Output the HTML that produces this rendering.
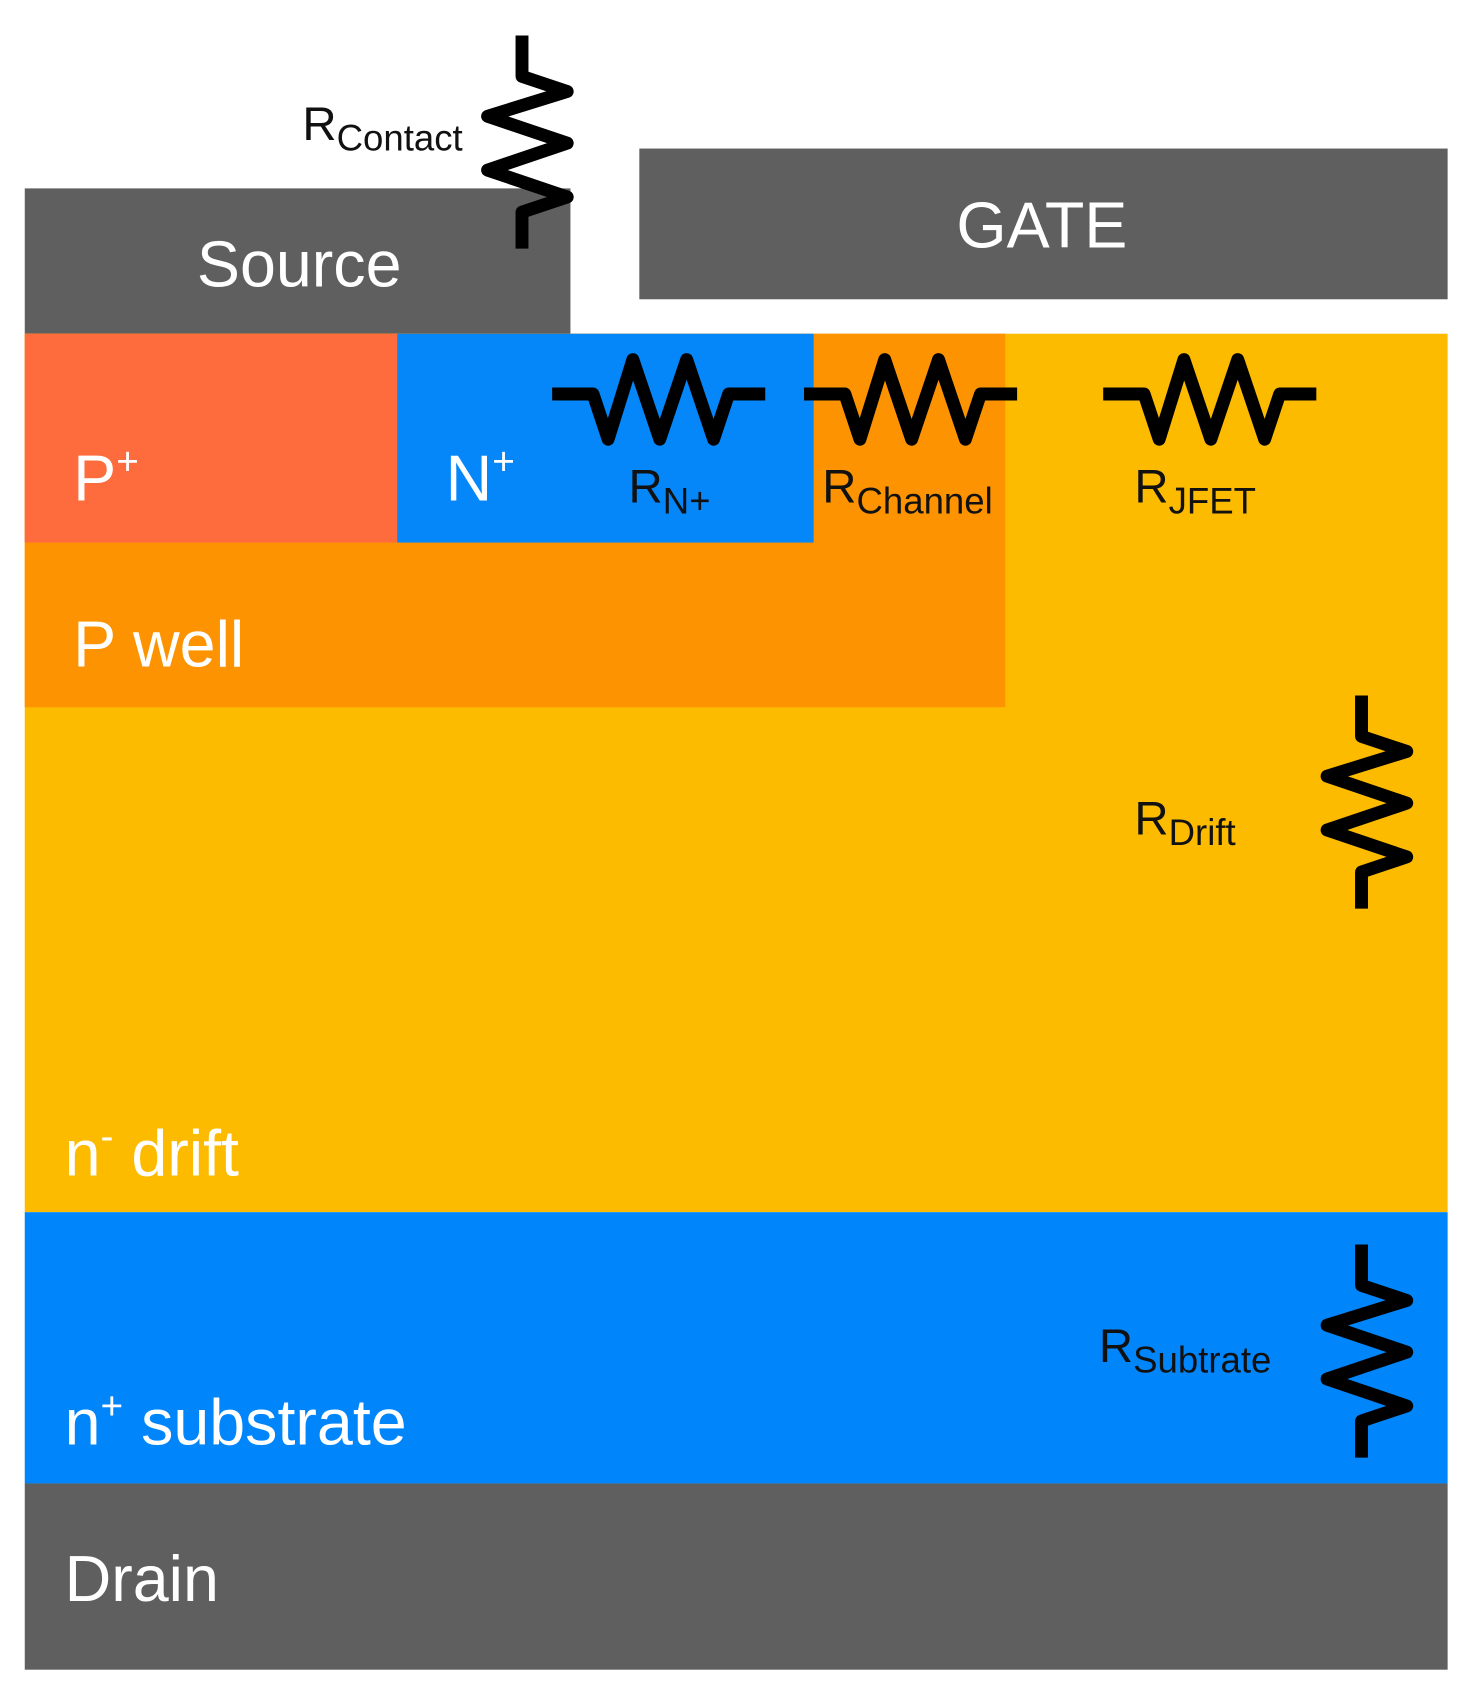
<!DOCTYPE html>
<html><head><meta charset="utf-8"><style>
html,body{margin:0;padding:0;background:#fff;}
svg{display:block;}
text{font-family:"Liberation Sans","DejaVu Sans",sans-serif;}
.w{fill:#fff;font-size:60px;}
.l{fill:#111;font-size:44px;}
.s{font-size:34px;}
</style></head><body>
<svg width="1467" height="1688" viewBox="0 0 1363 1568" preserveAspectRatio="none" xmlns="http://www.w3.org/2000/svg">
<defs>
<path id="rz" d="M0,0 L38,0 L52,42 L75,-32 L100,42 L125,-32 L150,42 L164,0 L198,0" fill="none" stroke="#000" stroke-width="12" stroke-linejoin="round"/>
</defs>
<rect x="0" y="0" width="1363" height="1568" fill="#fff"/>
<rect x="23" y="175" width="507" height="135" fill="#5f5f5f"/>
<rect x="594" y="138" width="751" height="140" fill="#5f5f5f"/>
<rect x="23" y="310" width="1322" height="816" fill="#fdbb00"/>
<rect x="23" y="310" width="911" height="347" fill="#fd9300"/>
<rect x="23" y="310" width="346" height="194" fill="#fe6b3d"/>
<rect x="369" y="310" width="387" height="194" fill="#0587fa"/>
<rect x="23" y="1126" width="1322" height="252" fill="#0085fb"/>
<rect x="23" y="1378" width="1322" height="173" fill="#5f5f5f"/>
<use href="#rz" transform="translate(513,366)"/>
<use href="#rz" transform="translate(747,366)"/>
<use href="#rz" transform="translate(1025,366)"/>
<use href="#rz" transform="matrix(0,1,1,0,485,33)"/>
<use href="#rz" transform="matrix(0,1,1,0,1265,646)"/>
<use href="#rz" transform="matrix(0,1,1,0,1265,1156)"/>
<text class="w" x="278" y="266" text-anchor="middle">Source</text>
<text class="w" x="968" y="230" text-anchor="middle">GATE</text>
<text class="w" x="68" y="465">P<tspan font-size="36" dy="-24">+</tspan></text>
<text class="w" x="414" y="465">N<tspan font-size="36" dy="-24">+</tspan></text>
<text class="w" x="68" y="619">P well</text>
<text class="w" x="60" y="1092">n<tspan font-size="36" dy="-24">-</tspan><tspan dy="24"> drift</tspan></text>
<text class="w" x="60" y="1342">n<tspan font-size="36" dy="-24">+</tspan><tspan dy="24"> substrate</tspan></text>
<text class="w" x="60" y="1487">Drain</text>
<text class="l" x="281" y="130">R<tspan class="s" dy="10">Contact</tspan></text>
<text class="l" x="584" y="467">R<tspan class="s" dy="10">N+</tspan></text>
<text class="l" x="764" y="467">R<tspan class="s" dy="10">Channel</tspan></text>
<text class="l" x="1054" y="467">R<tspan class="s" dy="10">JFET</tspan></text>
<text class="l" x="1054" y="775">R<tspan class="s" dy="10">Drift</tspan></text>
<text class="l" x="1021" y="1265">R<tspan class="s" dy="10">Subtrate</tspan></text>
</svg>
</body></html>
